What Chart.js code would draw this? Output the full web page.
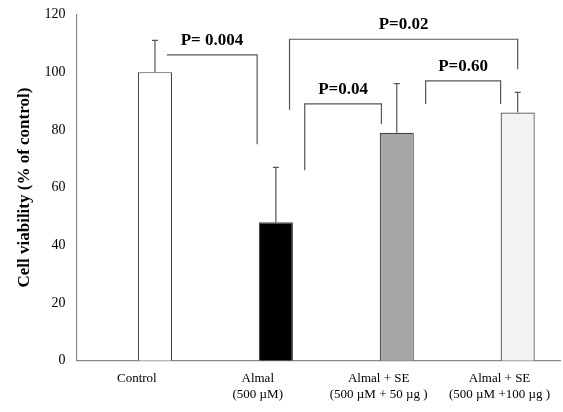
<!DOCTYPE html>
<html>
<head>
<script src="https://cdn.jsdelivr.net/npm/chart.js@4"></script>
<style>
  body { margin: 0; background: #fff; }
  #wrap { width: 563px; height: 412px; }
</style>
</head>
<body>
<div id="wrap"><canvas id="cv"></canvas></div>
<script>
var categories = [["Control"], ["Almal", "(500 µM)"], ["Almal + SE", "(500 µM + 50 µg )"], ["Almal + SE", "(500 µM +100 µg )"]];
var viability = [100, 48, 79, 86];
var errorTop = [111, 67, 96, 93];
var barColors = ["#ffffff", "#000000", "#a6a6a6", "#f2f2f2"];
var yTicks = [0, 20, 40, 60, 80, 100, 120];

// brackets: [leftBar, leftSide, rightBar, rightSide, leftBottom, top, rightBottom, label]
var brackets = [
    [0, 0.85, 1, -0.05, 106, 106, 75, "P= 0.004"],
    [1, 0.9, 3, 0.5, 87, 111.4, 101, "P=0.02"],
    [2, -2.2, 2, 0.05, 66, 89, 82, "P=0.04"],
    [3, -2.2, 3, 0, 89, 97, 89, "P=0.60"]
];

var overlay = {
    id: 'overlay',
    afterDatasetsDraw: function (chart) {
        var ctx = chart.ctx;
        var y = chart.scales.y;
        var bars = chart.getDatasetMeta(1).data;
        ctx.save();
        ctx.strokeStyle = "#555";
        ctx.lineWidth = 1.2;
        // error bars (upper only)
        bars.forEach(function (b, i) {
            var top = y.getPixelForValue(errorTop[i]);
            ctx.beginPath();
            ctx.moveTo(b.x, b.y);
            ctx.lineTo(b.x, top);
            ctx.moveTo(b.x - 3, top);
            ctx.lineTo(b.x + 3, top);
            ctx.stroke();
        });
        // significance brackets
        ctx.fillStyle = "#000";
        ctx.font = "bold 17px 'Liberation Serif'";
        ctx.textAlign = "center";
        ctx.textBaseline = "bottom";
        brackets.forEach(function (br) {
            var bl = bars[br[0]], brr = bars[br[2]];
            var x1 = bl.x - bl.width / 2 + br[1] * bl.width;
            var x2 = brr.x - brr.width / 2 + br[3] * brr.width;
            var yt = y.getPixelForValue(br[5]);
            ctx.beginPath();
            ctx.moveTo(x1, y.getPixelForValue(br[4]));
            ctx.lineTo(x1, yt);
            ctx.lineTo(x2, yt);
            ctx.lineTo(x2, y.getPixelForValue(br[6]));
            ctx.stroke();
            ctx.fillText(br[7], (x1 + x2) / 2, yt - 6);
        });
        ctx.restore();
    }
};

new Chart(document.getElementById('cv'), {
    type: 'bar',
    data: {
        labels: categories,
        datasets: [
            { data: [null, null, null, null] },
            {
                data: viability,
                backgroundColor: barColors,
                borderColor: "#444",
                borderWidth: 1.2,
                categoryPercentage: 0.6,
                barPercentage: 0.94
            }
        ]
    },
    options: {
        responsive: true,
        maintainAspectRatio: false,
        animation: false,
        layout: { padding: { top: 14, right: 3, left: 10, bottom: 0 } },
        plugins: { legend: { display: false }, tooltip: { enabled: false } },
        scales: {
            x: {
                grid: { display: false, drawTicks: false },
                border: { color: "#888", width: 1.2 },
                ticks: { color: "#000", font: { family: "Liberation Serif", size: 13 }, maxRotation: 0, padding: 10 }
            },
            y: {
                min: 0,
                max: 120,
                afterBuildTicks: function (s) { s.ticks = yTicks.map(function (v) { return { value: v }; }); },
                grid: { display: false, drawTicks: true, tickLength: 5, color: "#888" },
                border: { color: "#888", width: 1.2 },
                ticks: { color: "#000", font: { family: "Liberation Serif", size: 14 }, padding: 6 },
                title: {
                    display: true,
                    text: "Cell viability (% of control)",
                    color: "#000",
                    font: { family: "Liberation Serif", size: 17, weight: "bold" }
                }
            }
        }
    },
    plugins: [overlay]
});
</script>
</body>
</html>
